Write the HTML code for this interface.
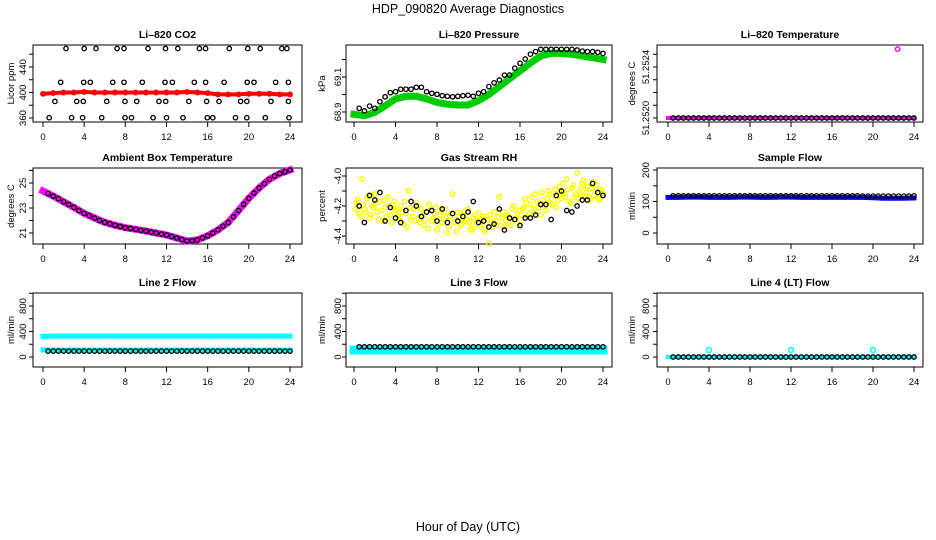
<!DOCTYPE html>
<html><head><meta charset="utf-8"><style>
html,body{margin:0;padding:0;background:#fff;}
svg{display:block;font-family:"Liberation Sans",sans-serif;}
</style></head><body>
<svg id="c" width="936" height="540" viewBox="0 0 936 540">
<text x="468" y="13" text-anchor="middle" font-size="12.5">HDP_090820  Average Diagnostics</text>
<text x="468" y="531" text-anchor="middle" font-size="12.5">Hour of Day (UTC)</text>
</svg>
<script>
const hourCats = [0,1,2,3,4,5,6,7,8,9,10,11,12,13,14,15,16,17,18,19,20,21,22,23,24];
const halfHours = [0.5,1,1.5,2,2.5,3,3.5,4,4.5,5,5.5,6,6.5,7,7.5,8,8.5,9,9.5,10,10.5,11,11.5,12,12.5,13,13.5,14,14.5,15,15.5,16,16.5,17,17.5,18,18.5,19,19.5,20,20.5,21,21.5,22,22.5,23,23.5,24];
const xTickLabels = [0,4,8,12,16,20,24];

// CO2
const co2Red = [398,399,400,400,401,400,400,400,400,400,400,400,400,400,401,400,399,397,397,397,398,398,398,397,397];
const co2OutHours = [2.23,4.0,5.15,7.2,7.87,10.2,11.9,13.1,15.2,15.8,18.1,19.9,21.1,23.2,23.7,
 1.72,3.95,4.6,6.77,7.87,9.65,11.85,12.57,14.7,15.8,17.6,19.84,20.5,22.6,23.84,
 1.16,3.27,3.92,6.19,7.97,9.1,11.27,11.92,14.18,15.9,17.1,19.2,19.8,22.15,23.84,
 0.6,2.78,3.85,5.7,7.97,8.6,10.7,12,13.6,15.96,16.5,18.7,19.8,21.6,23.9];
const co2OutVals = [469,469,469,469,469,469,469,469,469,469,469,469,469,469,469,
 416,416,416,416,416,416,416,416,416,416,416,416,416,416,416,
 386,386,386,386,386,386,386,386,386,386,386,386,386,386,386,
 360.5,360.5,360.5,360.5,360.5,360.5,360.5,360.5,360.5,360.5,360.5,360.5,360.5,360.5,360.5];

// Pressure
const presGreen = [68.887,68.879,68.898,68.935,68.975,68.99,68.99,68.975,68.955,68.944,68.94,68.94,68.965,69.0,69.045,69.09,69.135,69.18,69.22,69.235,69.235,69.23,69.22,69.21,69.2];
const presBlack = [68.921,68.906,68.934,68.921,68.959,68.987,69.01,69.016,69.03,69.03,69.03,69.041,69.041,69.016,69.007,69.001,68.993,68.99,68.987,68.99,68.993,68.996,68.99,69.007,69.016,69.045,69.067,69.083,69.111,69.111,69.15,69.178,69.203,69.23,69.245,69.258,69.258,69.258,69.258,69.258,69.258,69.258,69.254,69.248,69.245,69.245,69.241,69.235];

// Li-820 temperature
const tempMag = [51.2520,51.2520,51.2520,51.2520,51.2520,51.2520,51.2520,51.2520,51.2520,51.2520,51.2520,51.2520,51.2520,51.2520,51.2520,51.2520,51.2520,51.2520,51.2520,51.2520,51.2520,51.2520,51.2520,51.2520,51.2520];
const tempBlack = [51.2520,51.2520,51.2520,51.2520,51.2520,51.2520,51.2520,51.2520,51.2520,51.2520,51.2520,51.2520,51.2520,51.2520,51.2520,51.2520,51.2520,51.2520,51.2520,51.2520,51.2520,51.2520,51.2520,51.2520,51.2520,51.2520,51.2520,51.2520,51.2520,51.2520,51.2520,51.2520,51.2520,51.2520,51.2520,51.2520,51.2520,51.2520,51.2520,51.2520,51.2520,51.2520,51.2520,51.2520,51.2520,51.2520,51.2520,51.2520];
const tempOutHours = [22.4];
const tempOutVals = [51.25254];

// Ambient box temperature
const ambMag = [24.36,23.95,23.5,23.05,22.57,22.2,21.85,21.62,21.42,21.3,21.15,21.0,20.84,20.6,20.35,20.45,20.78,21.25,21.85,22.8,23.78,24.6,25.3,25.75,26.04];
const ambBlack = [24.15,23.95,23.75,23.5,23.3,23.05,22.8,22.57,22.4,22.2,22.0,21.85,21.75,21.62,21.52,21.42,21.36,21.3,21.22,21.15,21.08,21.0,20.92,20.84,20.72,20.6,20.48,20.35,20.38,20.45,20.6,20.78,21.0,21.25,21.55,21.85,22.3,22.8,23.3,23.78,24.2,24.6,24.95,25.3,25.55,25.75,25.9,26.04];

// Gas stream RH
const rhYellowA = [-4.18,-4.25,-4.02,-4.22,-4.15,-4.28,-4.20,-4.12,-4.24,-4.17,-4.30,-4.21,-4.14,-4.26,-4.19,-4.23,-4.27,-4.20,-4.32,-4.25,-4.10,-4.29,-4.22,-4.18,-4.28,-4.22,-4.33,-4.24,-4.19,-4.30,-4.25,-4.36,-4.26,-4.31,-4.22,-4.38,-4.27,-4.12,-4.29,-4.24,-4.33,-4.26,-4.30,-4.22,-4.35,-4.28,-4.32,-4.25,-4.29,-4.35,-4.27,-4.45,-4.31,-4.24,-4.33,-4.14,-4.28,-4.34,-4.26,-4.31,-4.22,-4.29,-4.25,-4.32,-4.22,-4.15,-4.27,-4.19,-4.24,-4.12,-4.21,-4.26,-4.16,-4.23,-4.10,-4.18,-4.13,-4.21,-4.07,-4.15,-4.12,-4.02,-4.17,-4.08,-4.14,-3.98,-4.11,-4.05,-4.13,-4.07,-4.16,-4.04,-4.10,-4.15,-4.09,-4.12];
const rhYellowB = [-4.22,-4.16,-4.27,-4.19,-4.24,-4.13,-4.26,-4.21,-4.18,-4.29,-4.23,-4.16,-4.27,-4.20,-4.31,-4.17,-4.22,-4.29,-4.24,-4.17,-4.34,-4.21,-4.27,-4.30,-4.20,-4.31,-4.26,-4.29,-4.35,-4.23,-4.28,-4.21,-4.32,-4.24,-4.29,-4.27,-4.34,-4.25,-4.31,-4.37,-4.27,-4.32,-4.24,-4.29,-4.31,-4.36,-4.26,-4.30,-4.33,-4.27,-4.37,-4.29,-4.26,-4.34,-4.30,-4.27,-4.33,-4.24,-4.30,-4.27,-4.33,-4.20,-4.28,-4.23,-4.26,-4.21,-4.18,-4.25,-4.14,-4.22,-4.17,-4.19,-4.11,-4.20,-4.15,-4.12,-4.19,-4.09,-4.16,-4.11,-4.05,-4.14,-4.09,-4.18,-4.06,-4.12,-4.15,-4.08,-4.03,-4.11,-4.14,-4.08,-4.13,-4.06,-4.16,-4.10];
const rhBlack = [-4.20,-4.31,-4.13,-4.16,-4.11,-4.30,-4.21,-4.28,-4.31,-4.23,-4.17,-4.20,-4.27,-4.24,-4.23,-4.30,-4.22,-4.31,-4.25,-4.30,-4.27,-4.24,-4.17,-4.31,-4.30,-4.34,-4.32,-4.22,-4.36,-4.28,-4.29,-4.33,-4.28,-4.28,-4.26,-4.19,-4.19,-4.29,-4.13,-4.10,-4.23,-4.24,-4.20,-4.16,-4.16,-4.05,-4.11,-4.13];

// Sample flow
const sampleBlue = [113,113,114,114,113,113,113,114,114,113,113,114,114,113,113,113,113,113,113,113,112,110,110,110,111];
const sampleBlack = [118,118,118,118,118,118,118,118,118,118,118,118,118,118,118,118,118,118,118,118,118,118,118,118,118,118,118,118,118,118,118,118,118,118,118,118,118,117,117,117,117,117,117,117,117,117,117,118];

// Line 2
const line2CyanHigh = [325,328,328,328,328,328,328,328,328,328,328,328,328,328,328,328,328,328,328,328,328,328,328,328,328];
const line2CyanLow = [110,108,108,108,108,108,108,108,108,108,108,108,108,108,108,108,108,108,108,108,108,108,108,108,108];
const line2Black = [92,92,92,92,92,92,92,92,92,92,92,92,92,92,92,92,92,92,92,92,92,92,92,92,92,92,92,92,92,92,92,92,92,92,92,92,92,92,92,92,92,92,92,92,92,92,92,92];

// Line 3
const line3Cyan = [108,110,110,110,110,110,110,110,110,110,110,110,110,110,110,110,110,110,110,110,110,110,110,110,110];
const line3Black = [160,160,160,160,160,160,160,160,160,160,160,160,160,160,160,160,160,160,160,160,160,160,160,160,160,160,160,160,160,160,160,160,160,160,160,160,160,160,160,160,160,160,160,160,160,160,160,160];

// Line 4
const line4Cyan = [0,0,0,0,0,0,0,0,0,0,0,0,0,0,0,0,0,0,0,0,0,0,0,0,0];
const line4Black = [0,0,0,0,0,0,0,0,0,0,0,0,0,0,0,0,0,0,0,0,0,0,0,0,0,0,0,0,0,0,0,0,0,0,0,0,0,0,0,0,0,0,0,0,0,0,0,0];
const line4OutHours = [4,12,20];
const line4OutVals = [110,110,110];

const svg = document.getElementById('c');
const NS = 'http://www.w3.org/2000/svg';
function mk(tag, attrs, parent){
  const e = document.createElementNS(NS, tag);
  for (const k in attrs) e.setAttribute(k, attrs[k]);
  (parent||svg).appendChild(e);
  return e;
}
const cols = [{bl:33,br:302,x0:43,x24:290,tl:22,al:10},{bl:346,br:612,x0:354,x24:603,tl:337,al:321},{bl:657,br:923,x0:668,x24:914,tl:645,al:631}];
const rows = [{bt:45,bb:122},{bt:168,bb:244},{bt:293,bb:367}];

function panel(name, title, ci, ri, ref, yTicks, yLabels, fmt, yTitle){
  const c = cols[ci], r = rows[ri];
  const g = mk('g', {});
  
  
  const xs = h => c.x0 + h*(c.x24 - c.x0)/24;
  const ys = v => ref[1] + (v - ref[0])*(ref[3]-ref[1])/(ref[2]-ref[0]);
  const t = mk('text', {x:(c.bl+c.br)/2, y:r.bt-7, 'text-anchor':'middle', 'font-size':10.5, 'font-weight':'bold'}, g);
  t.textContent = title;
  
  
  const box = mk('rect', {x:c.bl, y:r.bt, width:c.br-c.bl, height:r.bb-r.bt, fill:'none', stroke:'#000', 'stroke-width':1}, g);
  
  
  mk('line', {x1:xs(0), x2:xs(24), y1:r.bb, y2:r.bb, stroke:'#000'}, g);
  xTickLabels.forEach(h => {
    const x = xs(h);
    mk('line', {x1:x, x2:x, y1:r.bb, y2:r.bb+5, stroke:'#000'}, g);
    const tl = mk('text', {x:x, y:r.bb+18, 'text-anchor':'middle', 'font-size':9.5}, g);
    tl.textContent = h;
    
    
  });
  mk('line', {x1:c.bl, x2:c.bl, y1:ys(yTicks[0]), y2:ys(yTicks[yTicks.length-1]), stroke:'#000'}, g);
  yTicks.forEach(v => {
    const y = ys(v);
    mk('line', {x1:c.bl-4, x2:c.bl, y1:y, y2:y, stroke:'#000'}, g);
  });
  yLabels.forEach(v => {
    const y = ys(v);
    const tl = mk('text', {x:c.tl, y:y, 'text-anchor':'middle', 'font-size':9.5, transform:`rotate(-90 ${c.tl} ${y})`, dy:'4'}, g);
    tl.textContent = fmt(v);
    
    
  });
  const cy = (r.bt + r.bb)/2;
  const yt = mk('text', {x:c.al, y:cy, 'text-anchor':'middle', 'font-size':9.5, transform:`rotate(-90 ${c.al} ${cy})`, dy:'4'}, g);
  yt.textContent = yTitle;
  
  
  return {g, xs, ys};
}
function band(p, hours, vals, color, w, name){
  const d = hours.map((h,i) => (i?'L':'M') + p.xs(h).toFixed(1) + ' ' + p.ys(vals[i]).toFixed(1)).join(' ');
  const e = mk('path', {d:d, fill:'none', stroke:color, 'stroke-width':w, 'stroke-linecap':'square', 'stroke-linejoin':'round'}, p.g);
  
  
}
function pts(p, hours, vals, color, rad, sw, name){
  const g = mk('g', {}, p.g);
  
  
  hours.forEach((h,i) => {
    mk('circle', {cx:p.xs(h).toFixed(1), cy:p.ys(vals[i]).toFixed(1), r:rad, fill:'none', stroke:color, 'stroke-width':sw}, g);
  });
}
const f0 = v => String(v), f1 = v => v.toFixed(1), f4 = v => v.toFixed(4);

let p;
p = panel('co2-panel','Li\u2013820 CO2',0,0,[360,118,440,67],[360,380,400,420,440,460],[360,400,440],f0,'Licor ppm');
band(p, hourCats, co2Red, '#ff0000', 4, 'co2-red-series');
pts(p, hourCats, co2Red, '#ff0000', 2.2, 1.5, 'co2-red-points');
pts(p, co2OutHours, co2OutVals, '#000', 2.2, 1.3, 'co2-black-points');

p = panel('pressure-panel','Li\u2013820 Pressure',1,0,[68.9,112,69.1,77],[68.9,69.0,69.1,69.2],[68.9,69.1],f1,'kPa');
band(p, hourCats, presGreen, '#00cd00', 7, 'pressure-green-series');
pts(p, hourCats, presGreen, '#00cd00', 2.2, 1.5, 'pressure-green-points');
pts(p, halfHours, presBlack, '#000', 2.2, 1.3, 'pressure-black-points');

p = panel('li820-temp-panel','Li\u2013820 Temperature',2,0,[51.2520,118,51.2524,67],[51.2520,51.2521,51.2522,51.2523,51.2524,51.2525],[51.2520,51.2524],f4,'degrees C');
band(p, hourCats, tempMag, '#ff00ff', 4, 'temp-magenta-series');
pts(p, halfHours, tempBlack, '#000', 2.2, 1.3, 'temp-black-points');
pts(p, tempOutHours, tempOutVals, '#ff00ff', 2.2, 1.5, 'temp-outlier');

p = panel('ambient-temp-panel','Ambient Box Temperature',0,1,[21,233,25,183],[21,22,23,24,25,26],[21,23,25],f0,'degrees C');
band(p, hourCats, ambMag, '#ff00ff', 7, 'ambient-magenta-series');
pts(p, hourCats, ambMag, '#ff00ff', 2.5, 1.5, 'ambient-magenta-points');
pts(p, halfHours, ambBlack, '#000', 2.2, 1.3, 'ambient-black-points');

p = panel('rh-panel','Gas Stream RH',1,1,[-4.0,176,-4.4,236],[-4.0,-4.1,-4.2,-4.3,-4.4],[-4.0,-4.2,-4.4],f1,'percent');
const qh = rhYellowA.map((v,i) => (i+1)*0.25);
const qhB = rhYellowB.map((v,i) => (i+0.5)*0.25);
pts(p, qh, rhYellowA, '#ffff00', 2.3, 1.5, 'rh-yellow-points-a');
pts(p, qhB, rhYellowB, '#ffff00', 2.3, 1.5, 'rh-yellow-points-b');
pts(p, halfHours, rhBlack, '#000', 2.2, 1.3, 'rh-black-points');

p = panel('sample-flow-panel','Sample Flow',2,1,[0,233,200,170],[0,50,100,150,200],[0,100,200],f0,'ml/min');
band(p, hourCats, sampleBlue, '#0000ff', 5, 'sample-blue-series');
pts(p, halfHours, sampleBlack, '#000', 2.2, 1.3, 'sample-black-points');

p = panel('line2-flow-panel','Line 2 Flow',0,2,[0,357,800,306],[0,200,400,600,800,1000],[0,400,800],f0,'ml/min');
band(p, hourCats, line2CyanHigh, '#00ffff', 5, 'line2-cyan-high');
band(p, hourCats, line2CyanLow, '#00ffff', 5, 'line2-cyan-low');
pts(p, halfHours, line2Black, '#000', 2.2, 1.3, 'line2-black-points');

p = panel('line3-flow-panel','Line 3 Flow',1,2,[0,357,800,306],[0,200,400,600,800,1000],[0,400,800],f0,'ml/min');
band(p, hourCats, line3Cyan, '#00ffff', 9, 'line3-cyan-series');
pts(p, halfHours, line3Black, '#000', 2.2, 1.3, 'line3-black-points');

p = panel('line4-flow-panel','Line 4 (LT) Flow',2,2,[0,357,800,306],[0,200,400,600,800,1000],[0,400,800],f0,'ml/min');
band(p, hourCats, line4Cyan, '#00ffff', 4, 'line4-cyan-series');
pts(p, halfHours, line4Black, '#000', 2.2, 1.3, 'line4-black-points');
pts(p, line4OutHours, line4OutVals, '#00ffff', 2.5, 1.5, 'line4-cyan-outliers');
</script>
</body></html>
